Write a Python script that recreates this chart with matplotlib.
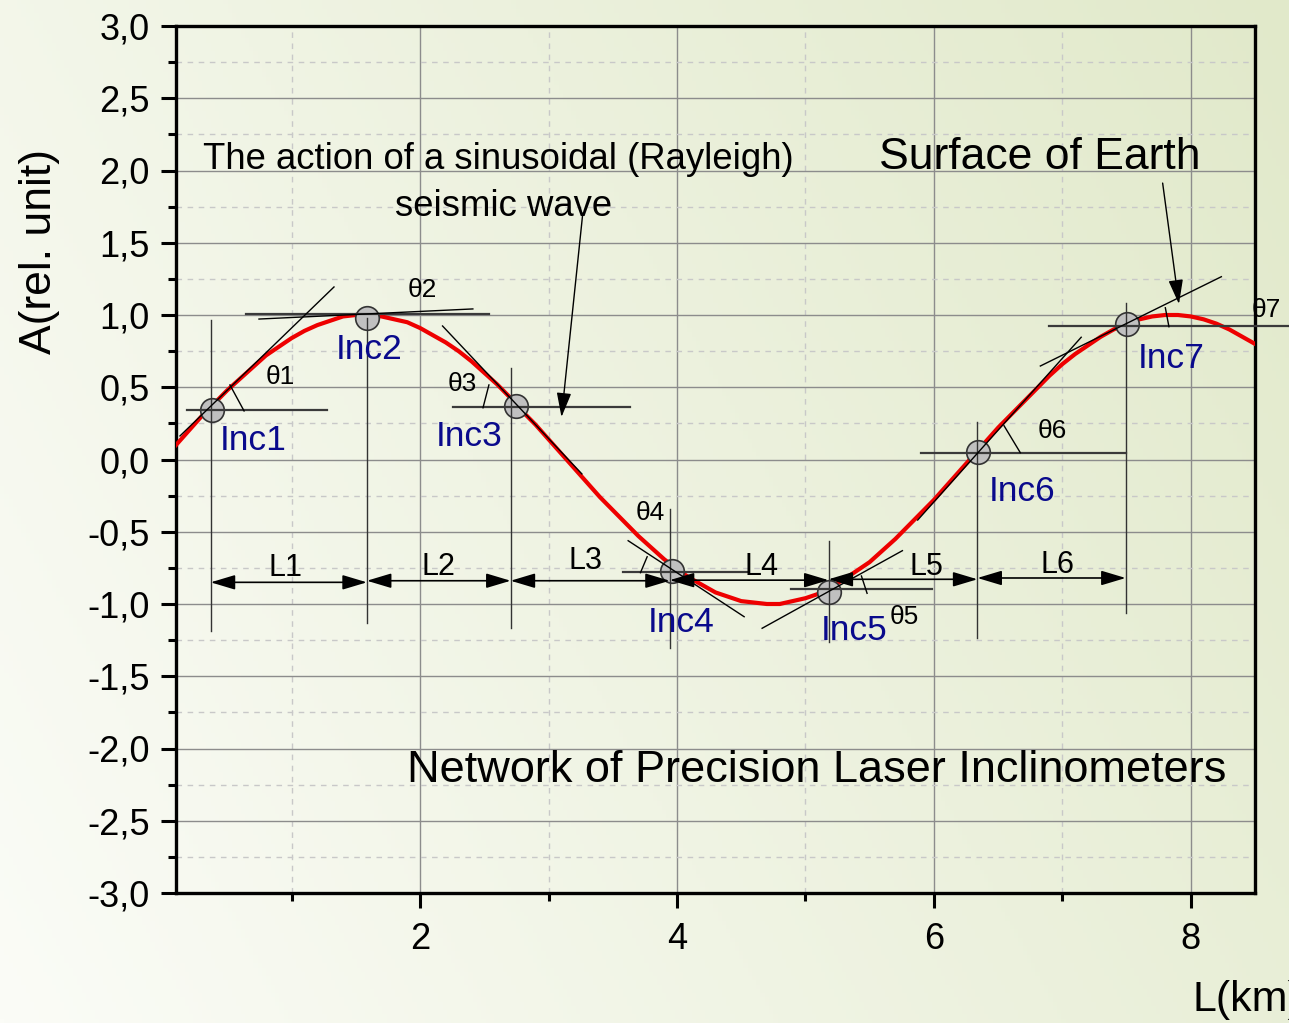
import numpy as np
import matplotlib
matplotlib.use("Agg")
import matplotlib.pyplot as plt
from matplotlib.ticker import FixedLocator, FuncFormatter

plt.rcParams['font.family'] = ['Liberation Sans', 'DejaVu Sans']

# wave profile (km, rel. unit)
wave_x = [0.1, 0.2, 0.3, 0.4, 0.5, 0.6, 0.7, 0.8, 0.9, 1.0,
          1.1, 1.2, 1.3, 1.4, 1.5, 1.6, 1.7, 1.8, 1.9, 2.0,
          2.1, 2.2, 2.3, 2.4, 2.5, 2.6, 2.7, 2.8, 2.9, 3.0,
          3.1, 3.2, 3.3, 3.4, 3.5, 3.6, 3.7, 3.8, 3.9, 4.0,
          4.1, 4.2, 4.3, 4.4, 4.5, 4.6, 4.7, 4.8, 4.9, 5.0,
          5.1, 5.2, 5.3, 5.4, 5.5, 5.6, 5.7, 5.8, 5.9, 6.0,
          6.1, 6.2, 6.3, 6.4, 6.5, 6.6, 6.7, 6.8, 6.9, 7.0,
          7.1, 7.2, 7.3, 7.4, 7.5, 7.6, 7.7, 7.8, 7.9, 8.0,
          8.1, 8.2, 8.3, 8.4, 8.5]
wave_y = [0.10, 0.20, 0.30, 0.39, 0.48, 0.56, 0.64, 0.72, 0.78, 0.84,
          0.89, 0.93, 0.96, 0.99, 1.00, 1.00, 0.99, 0.97, 0.95, 0.91,
          0.86, 0.81, 0.75, 0.68, 0.60, 0.52, 0.43, 0.33, 0.24, 0.14,
          0.04, -0.06, -0.16, -0.26, -0.35, -0.44, -0.53, -0.61, -0.69, -0.76,
          -0.82, -0.87, -0.92, -0.95, -0.98, -0.99, -1.00, -1.00, -0.98, -0.96,
          -0.93, -0.88, -0.83, -0.77, -0.71, -0.63, -0.55, -0.46, -0.37, -0.28,
          -0.18, -0.08, 0.02, 0.12, 0.22, 0.31, 0.40, 0.49, 0.58, 0.66,
          0.73, 0.79, 0.85, 0.90, 0.94, 0.97, 0.99, 1.00, 1.00, 0.99,
          0.97, 0.94, 0.90, 0.85, 0.80]

# inclinometers
inc_names = ['Inc1', 'Inc2', 'Inc3', 'Inc4', 'Inc5', 'Inc6', 'Inc7']
inc_x = [0.38, 1.59, 2.75, 3.96, 5.18, 6.34, 7.50]
inc_y = [0.34, 0.98, 0.37, -0.77, -0.92, 0.05, 0.94]
inc_label_x = [0.70, 1.60, 2.38, 4.03, 5.38, 6.69, 7.85]
inc_label_y = [0.13, 0.76, 0.16, -1.13, -1.18, -0.22, 0.70]

# vertical marker lines (x, top, bottom)
vert_x = [0.37, 1.586, 2.705, 3.944, 5.18, 6.339, 7.493]
vert_top = [0.965, 0.98, 0.633, -0.343, -0.562, 0.262, 1.081]
vert_bot = [-1.19, -1.13, -1.166, -1.304, -1.26, -1.235, -1.06]

# horizontal reference lines (y, x start, x end)
href_y = [0.343, 1.007, 0.365, -0.776, -0.896, 0.047, 0.926]
href_x0 = [0.186, 0.645, 2.256, 3.576, 4.886, 5.903, 6.896]
href_x1 = [1.275, 2.536, 3.633, 4.554, 5.989, 7.493, 8.76]

# tangent lines (x0, y0, x1, y1)
tangents = [(0.131, 0.163, 1.33, 1.194),
            (0.746, 0.972, 2.411, 1.042),
            (2.175, 0.924, 3.26, -0.10),
            (3.62, -0.562, 4.523, -1.088),
            (4.663, -1.168, 5.755, -0.631),
            (5.874, -0.419, 7.147, 0.846),
            (6.829, 0.647, 8.238, 1.265)]

# small angle marks
angle_marks = [(0.52, 0.516, 0.63, 0.336),
               (2.536, 0.516, 2.49, 0.358),
               (3.768, -0.673, 3.716, -0.783),
               (5.436, -0.806, 5.48, -0.926),
               (6.546, 0.234, 6.673, 0.047),
               (7.802, 1.05, 7.830, 0.919)]
theta_names = ['θ1', 'θ2', 'θ3', 'θ4', 'θ5', 'θ6', 'θ7']
theta_x = [0.91, 2.02, 2.33, 3.79, 5.77, 6.92, 8.59]
theta_y = [0.57, 1.17, 0.52, -0.37, -1.09, 0.20, 1.035]

# distances between inclinometers
dist_names = ['L1', 'L2', 'L3', 'L4', 'L5', 'L6']
dist_x0 = [0.37, 1.586, 2.705, 3.944, 5.18, 6.339]
dist_x1 = [1.586, 2.705, 3.944, 5.18, 6.339, 7.493]
dist_y = [-0.85, -0.839, -0.839, -0.835, -0.829, -0.82]
dist_label_x = [0.95, 2.14, 3.29, 4.66, 5.94, 6.96]
dist_label_y = [-0.75, -0.745, -0.70, -0.745, -0.745, -0.73]

y_ticks = [-3.0, -2.5, -2.0, -1.5, -1.0, -0.5, 0.0, 0.5, 1.0, 1.5, 2.0, 2.5, 3.0]
x_ticks = [2, 4, 6, 8]

W, H = 1289, 1023
fig = plt.figure(figsize=(W / 100, H / 100), dpi=100)

# background gradient, white bottom-left to pale green top-right
bg = fig.add_axes([0, 0, 1, 1], zorder=-10)
gx, gy = np.meshgrid(np.linspace(0, 1, 300), np.linspace(1, 0, 240))
t = np.clip(0.7 * gx + 0.3 * gy, 0, 1)[..., None]
c0 = np.array([251, 252, 247]) / 255
c1 = np.array([225, 233, 202]) / 255
bg.imshow(c0 + (c1 - c0) * t, aspect='auto', extent=[0, 1, 0, 1])
bg.axis('off')

ax = fig.add_axes([176 / W, 1 - 893 / H, (1255 - 176) / W, (893 - 26) / H])
ax.patch.set_alpha(0)
ax.set_xlim(0.1, 8.5)
ax.set_ylim(-3, 3)

ax.xaxis.set_major_locator(FixedLocator(x_ticks))
ax.xaxis.set_minor_locator(FixedLocator([1, 3, 5, 7]))
ax.yaxis.set_major_locator(FixedLocator(y_ticks))
ax.yaxis.set_minor_locator(FixedLocator(np.arange(-2.75, 3.0, 0.5)))
ax.yaxis.set_major_formatter(FuncFormatter(lambda v, p: f'{v:.1f}'.replace('.', ',')))
ax.tick_params(which='major', direction='out', length=11, width=2.2, labelsize=26, pad=8)
ax.tick_params(which='minor', direction='out', length=5.5, width=2.2)
ax.tick_params(axis='x', which='major', pad=10)
for s in ax.spines.values():
    s.set_linewidth(2.4)
ax.set_axisbelow(True)
ax.grid(which='major', color='#8c8c8c', lw=1.0)
ax.grid(which='minor', color='#c8c8c8', lw=1.0, ls=(0, (4, 4)))

# wave
ax.plot(wave_x, wave_y, color='#ee0000', lw=3.0, zorder=3, solid_joinstyle='round')

# inclinometers
ax.plot(inc_x, inc_y, 'o', ms=17, mfc='#c0c0c0', mec='#333333', mew=1.2, zorder=4, ls='none')
for name, lx, ly in zip(inc_names, inc_label_x, inc_label_y):
    ax.text(lx, ly, name, color='#0a0a8c', fontsize=25.5, ha='center', va='center', zorder=7)

for x, y0, y1 in zip(vert_x, vert_top, vert_bot):
    ax.plot([x, x], [y0, y1], color='#333333', lw=1.0, zorder=5)
for y, x0, x1 in zip(href_y, href_x0, href_x1):
    ax.plot([x0, x1], [y, y], color='#3a3a3a', lw=1.6, zorder=5, clip_on=False)
for x0, y0, x1, y1 in tangents:
    ax.plot([x0, x1], [y0, y1], color='black', lw=1.0, zorder=5)
for x0, y0, x1, y1 in angle_marks:
    ax.plot([x0, x1], [y0, y1], color='black', lw=1.0, zorder=5)
for name, tx, ty in zip(theta_names, theta_x, theta_y):
    ax.text(tx, ty, name, fontsize=19, ha='center', va='center', zorder=7, clip_on=False)

# distance arrows
for name, x0, x1, y, lx, ly in zip(dist_names, dist_x0, dist_x1, dist_y, dist_label_x, dist_label_y):
    ax.annotate('', xy=(x1, y), xytext=(x0, y),
                arrowprops=dict(arrowstyle='<|-|>,head_length=1.5,head_width=0.45', mutation_scale=10,
                                color='black', lw=1.2, shrinkA=0, shrinkB=0), zorder=6)
    ax.text(lx, ly, name, fontsize=22, ha='center', va='center', zorder=7)

# captions and pointer arrows
ax.text(2.606, 2.073, 'The action of a sinusoidal (Rayleigh)', fontsize=26.3, ha='center', va='center')
ax.text(2.653, 1.754, 'seismic wave', fontsize=26.3, ha='center', va='center')
ax.annotate('', xy=(3.101, 0.294), xytext=(3.267, 1.706),
            arrowprops=dict(arrowstyle='-|>,head_length=1.5,head_width=0.45', mutation_scale=10,
                            color='black', lw=1.0, shrinkA=0, shrinkB=0), zorder=6)
ax.text(6.824, 2.087, 'Surface of Earth', fontsize=32, ha='center', va='center')
ax.annotate('', xy=(7.908, 1.076), xytext=(7.781, 1.913),
            arrowprops=dict(arrowstyle='-|>,head_length=1.5,head_width=0.45', mutation_scale=10,
                            color='black', lw=1.0, shrinkA=0, shrinkB=0), zorder=6)
ax.text(5.088, -2.149, 'Network of Precision Laser Inclinometers', fontsize=32.5, ha='center', va='center')

fig.text(40 / W, 1 - 252 / H, 'A(rel. unit)', fontsize=32, rotation=90, ha='center', va='center')
fig.text(1192 / W, 1 - 1000 / H, 'L(km)', fontsize=31, ha='left', va='center')

fig.savefig('out.png', dpi=100)
